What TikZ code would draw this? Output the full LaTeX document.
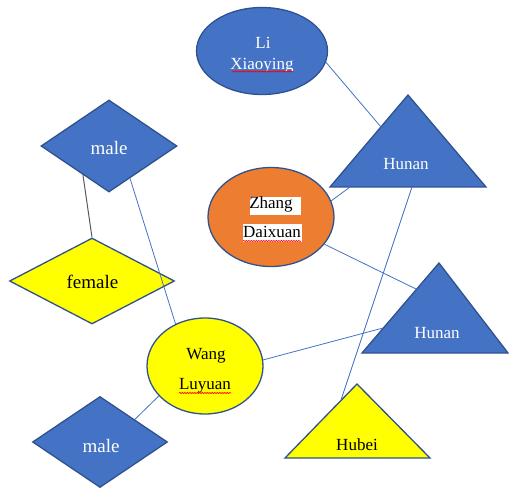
\documentclass[tikz,border=0pt]{standalone}
\usepackage{fontspec}
\setmainfont{Liberation Serif}
\usetikzlibrary{shapes.geometric,decorations.pathmorphing}
\definecolor{obl}{HTML}{4472C4}
\definecolor{obd}{HTML}{2F528F}
\definecolor{oor}{HTML}{ED7D31}
\definecolor{oye}{HTML}{FFFF00}
\tikzset{
 shp/.style={draw=obd, line width=1.3pt},
 ell/.style={shp, ellipse, inner sep=0pt},
 dia/.style={shp, diamond, inner sep=0pt, fill=obl},
 tri/.style={shp, line join=miter},
 lnk/.style={draw=obl, line width=0.8pt},
 lbl/.style={font=\fontsize{17}{20}\selectfont, anchor=base, inner sep=0pt},
 big/.style={font=\fontsize{19}{22}\selectfont, anchor=base, inner sep=0pt},
 spell/.style={draw=red, line width=0.6pt, decorate, decoration={snake, amplitude=0.6pt, segment length=2.5pt}},
}
\begin{document}
\begin{tikzpicture}[x=1pt,y=-1pt]
\useasboundingbox (0,0) rectangle (509,489);
% ellipses and diamonds
\node[ell, fill=obl, minimum width=131pt, minimum height=87pt] (li) at (262,51) {};
\node[ell, fill=oor, minimum width=126pt, minimum height=99pt] (zh) at (271,217) {};
\node[ell, fill=oye, minimum width=116pt, minimum height=96pt] (wa) at (205,366) {};
\node[dia, minimum width=136pt, minimum height=92pt] (m1) at (109,146) {};
\node[dia, fill=oye, minimum width=165pt, minimum height=86pt] (fe) at (92,281) {};
\node[dia, minimum width=135pt, minimum height=91pt] (m2) at (100,442) {};
% triangles
\filldraw[tri, fill=obl] (408,95) -- (486,187) -- (330,187) -- cycle;
\filldraw[tri, fill=obl] (439,263) -- (508,353) -- (362,353) -- cycle;
\filldraw[tri, fill=oye] (357,384) -- (430,458) -- (285,458) -- cycle;
% attachment points on triangles
\coordinate (h1a) at (381,127);
\coordinate (h1b) at (350,187);
\coordinate (h1c) at (412,187);
\coordinate (h2a) at (416,289);
\coordinate (h2b) at (383,328);
\coordinate (hba) at (341,400);
% connectors
\draw[lnk] (li.-10) -- (h1a);
\draw[lnk] (zh.15) -- (h1b);
\draw[lnk] (zh.-27) -- (h2a);
\draw[lnk] (h1c) -- (hba);
\draw[lnk] (wa.6) -- (h2b);
\draw[lnk] (m1.-57) -- (wa.125);
\draw[draw=gray!70!black, line width=1pt] (m1.-132) -- (fe.north);
\draw[lnk] (wa.213) -- (m2.33);
% labels
\node[lbl, text=white] (tli1) at (263,48.5) {Li};
\begin{scope}
\clip (200,50) rectangle (330,70.5);
\node[lbl, text=white] (tli2) at (262,69.5) {Xiaoying};
\end{scope}
\draw[spell] (232,71.5) -- (293,71.5);
\fill[white] (250,197) rectangle (301,215);
\fill[white] (243,224) rectangle (302,242);
\node[lbl] (tzh1) at (271,209) {Zhang};
\node[lbl] (tzh2) at (272,237.5) {Daixuan};
\draw[spell] (243,241) -- (301,241);
\node[lbl] (twa1) at (206,359.5) {Wang};
\node[lbl] (twa2) at (205,389.5) {Luyuan};
\draw[spell] (179,393) -- (231,393);
\node[lbl, text=white] (th1) at (406,169.6) {Hunan};
\node[lbl, text=white] (th2) at (437,338) {Hunan};
\node[lbl] (thb) at (357,450.6) {Hubei};
\node[big, text=white] (tm1) at (109,154.6) {male};
\node[big] (tfe) at (92.5,288) {female};
\node[big, text=white] (tm2) at (101,452.3) {male};
\end{tikzpicture}
\end{document}
